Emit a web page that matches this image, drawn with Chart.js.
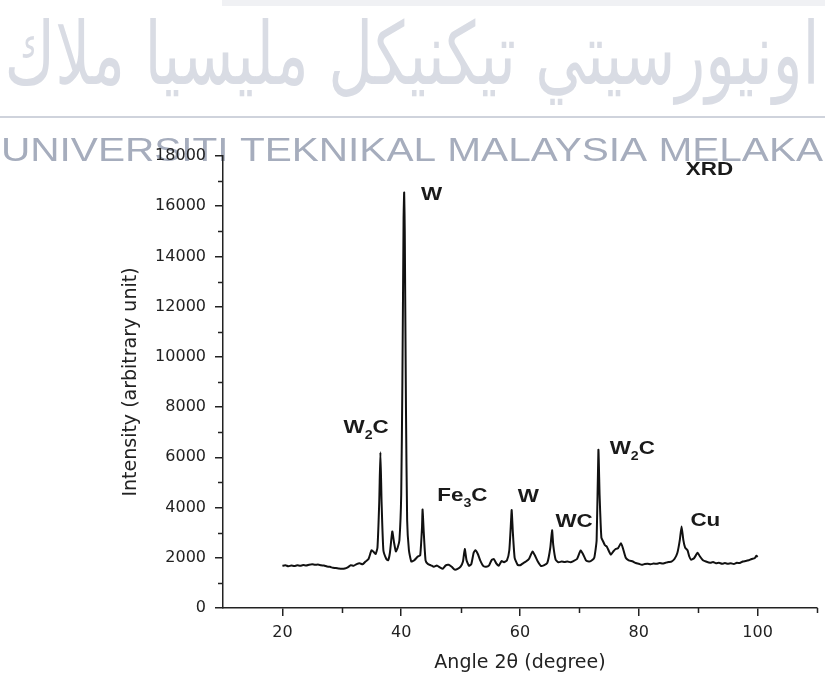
<!DOCTYPE html>
<html>
<head>
<meta charset="utf-8">
<script src="https://cdn.jsdelivr.net/npm/chart.js@4.4.0/dist/chart.umd.min.js"></script>
<style>
  html, body { margin: 0; padding: 0; background: #fff; }
</style>
</head>
<body>
<canvas id="xrdChart" width="825" height="676"></canvas>
<script>
// XRD pattern (angle 2theta in degrees, intensity in arbitrary units)
var angles = [
  20.0, 20.5, 21.0, 21.5, 22.0, 22.5, 23.0, 23.5, 24.0, 24.5,
  25.0, 25.5, 26.0, 26.5, 27.0, 27.5, 28.0, 28.5, 29.0, 29.5,
  30.0, 30.5, 31.0, 31.5, 32.0, 32.5, 33.0, 33.5, 34.0, 34.5,
  35.0, 35.3, 35.7, 36.0, 36.3, 36.5, 36.7, 37.0, 37.5, 37.8,
  38.1, 38.5, 38.8, 39.1, 39.4, 39.7, 40.0, 40.2, 40.4, 40.5,
  40.6, 40.8, 41.0, 41.3, 41.7, 42.2, 42.8, 43.2, 43.5, 43.6,
  43.8, 44.1, 44.5, 45.0, 45.5, 46.0, 46.5, 47.0, 47.5, 48.0,
  48.5, 49.0, 49.5, 50.0, 50.4, 50.7, 51.0, 51.4, 51.8, 52.2,
  52.5, 52.9, 53.3, 53.8, 54.3, 54.8, 55.2, 55.6, 56.0, 56.4,
  56.9, 57.3, 57.8, 58.2, 58.5, 58.6, 58.8, 59.1, 59.6, 60.0,
  60.5, 61.0, 61.5, 62.1, 62.5, 63.0, 63.5, 64.0, 64.6, 65.1,
  65.4, 65.6, 66.0, 66.5, 67.0, 67.5, 68.0, 68.5, 69.0, 69.6,
  70.2, 70.6, 71.1, 71.6, 72.0, 72.5, 72.9, 73.2, 73.4, 73.7,
  74.0, 74.3, 74.6, 75.0, 75.3, 75.7, 76.1, 76.5, 77.0, 77.3,
  77.8, 78.3, 79.0, 79.5, 80.0, 80.5, 81.0, 81.5, 82.0, 82.5,
  83.0, 83.5, 84.0, 84.5, 85.0, 85.5, 86.0, 86.5, 86.9, 87.2,
  87.5, 87.8, 88.2, 88.5, 88.8, 89.3, 89.9, 90.3, 90.8, 91.3,
  92.0, 92.5, 93.0, 93.5, 94.0, 94.5, 95.0, 95.5, 96.0, 96.5,
  97.0, 97.5, 98.0, 98.5, 99.0, 99.5, 99.8, 100.0
];
var intensity = [
  1680, 1700, 1660, 1690, 1670, 1700, 1680, 1710, 1690, 1720,
  1740, 1720, 1730, 1700, 1690, 1650, 1640, 1600, 1590, 1570,
  1560, 1570, 1620, 1700, 1680, 1750, 1780, 1740, 1850, 1950,
  2300, 2250, 2150, 2400, 4200, 6200, 4200, 2300, 1950, 1900,
  2200, 3050, 2600, 2250, 2400, 2700, 4500, 9000, 15500, 16550,
  15000, 8000, 3500, 2300, 1850, 1900, 2050, 2100, 3200, 3920,
  3000, 1900, 1750, 1700, 1640, 1690, 1620, 1560, 1700, 1720,
  1640, 1530, 1560, 1650, 1850, 2350, 1900, 1680, 1750, 2200,
  2300, 2150, 1900, 1680, 1640, 1700, 1900, 1950, 1780, 1680,
  1870, 1820, 1900, 2300, 3500, 3900, 3000, 2000, 1720, 1700,
  1780, 1850, 1950, 2250, 2100, 1850, 1680, 1700, 1800, 2400,
  3100, 2500, 1920, 1820, 1850, 1830, 1850, 1820, 1870, 1950,
  2290, 2150, 1900, 1850, 1880, 2000, 2700, 6300, 4500, 2800,
  2650, 2500, 2450, 2250, 2120, 2250, 2350, 2380, 2580, 2400,
  2000, 1900, 1850, 1790, 1760, 1720, 1750, 1760, 1740, 1770,
  1760, 1790, 1770, 1800, 1830, 1850, 1950, 2200, 2700, 3250,
  2700, 2400, 2300, 2050, 1920, 1980, 2200, 2050, 1900, 1850,
  1800, 1830, 1780, 1800, 1760, 1790, 1760, 1780, 1750, 1800,
  1790, 1850, 1870, 1900, 1950, 1980, 2080, 2030
];

var xTicks = [20, 40, 60, 80, 100];
var xMinorTicks = [30, 50, 70, 90, 110];
var yTicks = [0, 2000, 4000, 6000, 8000, 10000, 12000, 14000, 16000, 18000];
var yMinorTicks = [1000, 3000, 5000, 7000, 9000, 11000, 13000, 15000, 17000];

// phase labels, "_" marks a one character subscript
var peakNames = ['W', 'W_2C', 'Fe_3C', 'W', 'WC', 'W_2C', 'Cu', 'XRD'];
var peakLabelX = [45.1, 34.1, 50.3, 61.4, 69.1, 78.9, 91.2, 91.9];
var peakLabelY = [16470, 7170, 4470, 4430, 3430, 6340, 3470, 17450];

var points = [];
for (var i = 0; i < angles.length; i++) {
  points.push({ x: angles[i], y: intensity[i] });
}

var inkColor = '#222';

// faded university watermark behind the chart
var watermark = {
  id: 'watermark',
  beforeDraw: function(chart) {
    var ctx = chart.ctx;
    ctx.save();
    ctx.fillStyle = '#f0f1f4';
    ctx.fillRect(222, 0, 603, 6);

    ctx.fillStyle = '#d9dce4';
    ctx.font = '72px "DejaVu Sans"';
    ctx.textAlign = 'center';
    ctx.textBaseline = 'alphabetic';
    var jawi = 'اونيورسيتي تيكنيكل مليسيا ملاك';
    var w = ctx.measureText(jawi).width;
    ctx.save();
    ctx.translate(412, 84);
    ctx.scale(815 / w, 1.2);
    ctx.fillText(jawi, 0, 0);
    ctx.restore();

    ctx.strokeStyle = '#cfd3dc';
    ctx.lineWidth = 2;
    ctx.beginPath();
    ctx.moveTo(0, 117);
    ctx.lineTo(825, 117);
    ctx.stroke();

    ctx.fillStyle = '#a6adbd';
    ctx.font = '34px "Liberation Sans"';
    var latin = 'UNIVERSITI TEKNIKAL MALAYSIA MELAKA';
    w = ctx.measureText(latin).width;
    ctx.save();
    ctx.translate(412, 161);
    ctx.scale(822 / w, 1);
    ctx.fillText(latin, 0, 0);
    ctx.restore();
    ctx.restore();
  }
};

// short minor ticks and the phase labels
var extras = {
  id: 'extras',
  afterDraw: function(chart) {
    var ctx = chart.ctx;
    var xs = chart.scales.x, ys = chart.scales.y;
    var area = chart.chartArea;
    ctx.save();
    ctx.strokeStyle = inkColor;
    ctx.lineWidth = 1.5;
    ctx.beginPath();
    yMinorTicks.forEach(function(v) {
      var py = Math.round(ys.getPixelForValue(v)) + 0.5;
      ctx.moveTo(area.left - 5, py);
      ctx.lineTo(area.left, py);
    });
    xMinorTicks.forEach(function(v) {
      var px = Math.round(xs.getPixelForValue(v)) + 0.5;
      ctx.moveTo(px, area.bottom);
      ctx.lineTo(px, area.bottom + 5);
    });
    ctx.stroke();

    ctx.fillStyle = '#1a1a1a';
    ctx.textBaseline = 'middle';
    var stretch = 1.18;
    var bigFont = 'bold 19px "Liberation Sans"';
    var subFont = 'bold 12px "Liberation Sans"';
    peakNames.forEach(function(name, k) {
      var parts = [];
      for (var c = 0; c < name.length; c++) {
        if (name[c] === '_') { parts.push([name[c + 1], true]); c++; }
        else parts.push([name[c], false]);
      }
      var total = 0;
      parts.forEach(function(p) {
        ctx.font = p[1] ? subFont : bigFont;
        total += ctx.measureText(p[0]).width;
      });
      var cx = xs.getPixelForValue(peakLabelX[k]);
      var cy = ys.getPixelForValue(peakLabelY[k]);
      ctx.save();
      ctx.translate(cx, cy);
      ctx.scale(stretch, 1);
      var x0 = -total / 2;
      parts.forEach(function(p) {
        ctx.font = p[1] ? subFont : bigFont;
        ctx.textAlign = 'left';
        ctx.fillText(p[0], x0, p[1] ? 8 : 0);
        x0 += ctx.measureText(p[0]).width;
      });
      ctx.restore();
    });
    ctx.restore();
  }
};

var ctx = document.getElementById('xrdChart').getContext('2d');
var xrdChart = new Chart(ctx, {
  type: 'line',
  data: {
    datasets: [{
      data: points,
      borderColor: '#111',
      borderWidth: 2,
      pointRadius: 0,
      tension: 0.15,
      fill: false
    }]
  },
  options: {
    responsive: false,
    animation: false,
    layout: { padding: { left: 118, right: 8, top: 156, bottom: 0 } },
    plugins: { legend: { display: false }, tooltip: { enabled: false } },
    scales: {
      x: {
        type: 'linear',
        min: 10,
        max: 110,
        afterBuildTicks: function(s) {
          s.ticks = xTicks.map(function(v) { return { value: v }; });
        },
        afterFit: function(s) {
          s.height = 68;
          s.paddingLeft = 0;
          s.paddingRight = 0;
        },
        ticks: {
          autoSkip: false,
          maxRotation: 0,
          padding: 7,
          color: '#222',
          font: { family: 'DejaVu Sans', size: 16 },
          callback: function(v) { return String(v); }
        },
        grid: { drawOnChartArea: false, drawTicks: true, tickLength: 8, color: inkColor, lineWidth: 1.5 },
        border: { display: true, color: inkColor, width: 1.5 },
        title: {
          display: true,
          text: 'Angle 2θ (degree)',
          color: '#222',
          font: { family: 'DejaVu Sans', size: 19 },
          padding: { top: 2, bottom: 2 }
        }
      },
      y: {
        min: 0,
        max: 18000,
        afterBuildTicks: function(s) {
          s.ticks = yTicks.map(function(v) { return { value: v }; });
        },
        afterFit: function(s) {
          s.width = 105;
          s.paddingTop = 0;
          s.paddingBottom = 0;
        },
        ticks: {
          padding: 9,
          color: '#222',
          font: { family: 'DejaVu Sans', size: 16 },
          callback: function(v) { return String(v); }
        },
        grid: { drawOnChartArea: false, drawTicks: true, tickLength: 8, color: inkColor, lineWidth: 1.5 },
        border: { display: true, color: inkColor, width: 1.5 },
        title: {
          display: true,
          text: 'Intensity (arbitrary unit)',
          color: '#222',
          font: { family: 'DejaVu Sans', size: 19 },
          padding: { top: 2, bottom: 2 }
        }
      }
    }
  },
  plugins: [watermark, extras]
});
</script>
</body>
</html>
